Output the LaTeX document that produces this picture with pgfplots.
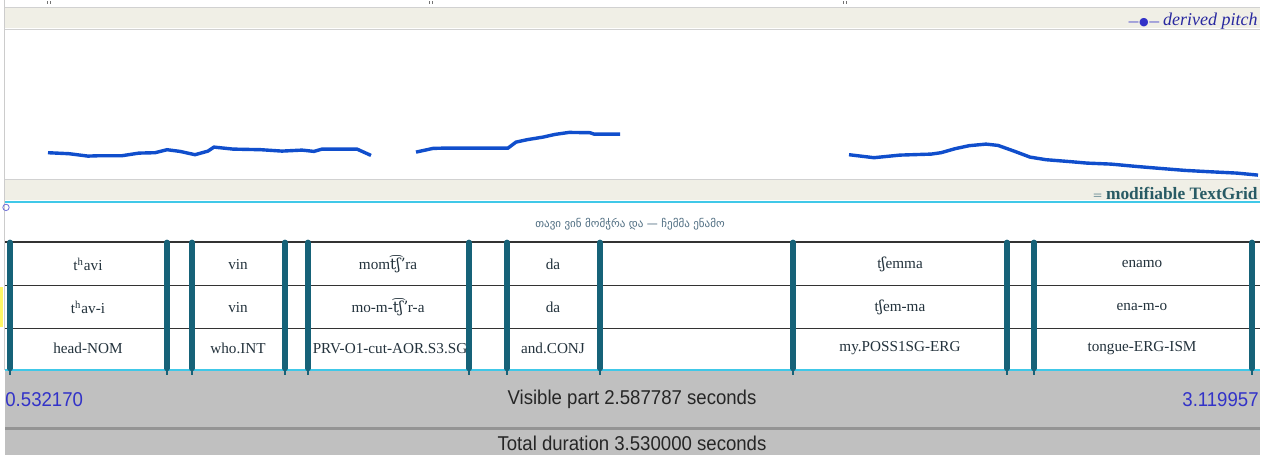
\documentclass[border=0pt]{standalone}
\usepackage{fontspec}
\setmainfont{Liberation Serif}
\newfontfamily\serf{Liberation Serif}
\newfontfamily\sansf{Liberation Sans}
\newfontfamily\geo{DejaVu Sans}
\newfontfamily\ipa{DejaVu Serif}
\usepackage{graphicx}
\usepackage{pgfplots}
\pgfplotsset{compat=1.18}
\definecolor{beige}{RGB}{240,239,230}
\definecolor{pitchblue}{RGB}{16,78,204}
\definecolor{bnd}{RGB}{22,98,120}
\definecolor{cyanline}{RGB}{64,200,232}
\definecolor{panelgray}{RGB}{192,192,192}
\definecolor{labblue}{RGB}{50,50,200}
\definecolor{tgteal}{RGB}{40,90,100}
\definecolor{rowtxt}{RGB}{35,50,60}
\definecolor{geotxt}{RGB}{80,110,130}
\newcommand{\rowfont}{\serf\fontsize{7.6}{9}\selectfont\color{rowtxt}}
\newcommand{\panelfont}{\sansf\fontsize{10}{12}\selectfont}
\begin{document}
\begin{tikzpicture}
\begin{axis}[x=0.5pt,y=0.5pt,y dir=reverse,xmin=0,xmax=1277,ymin=0,ymax=455,
  hide axis,clip=false]
% backgrounds
\fill[white] (0,0) rectangle (1277,455);
\fill[beige] (5,7) rectangle (1260,28);
\draw[black!18] (5,28.5) -- (1260,28.5);
\draw[black!18] (5,7) -- (1260,7);
\fill[beige] (5,179) rectangle (1260,200);
\draw[black!18] (5,178.5) -- (1260,178.5);
\draw[black!20] (4.5,0) -- (4.5,370);
\fill[yellow!60!white] (0,287) rectangle (3,327);
% tier lines
\draw[black!80, line width=0.7pt] (5,241.5) -- (1260,241.5);
\draw[black!80, line width=0.7pt] (5,285) -- (1260,285);
\draw[black!80, line width=0.7pt] (5,328) -- (1260,328);
% bottom panel
\fill[panelgray] (5,371) rectangle (1260,455);
\draw[black!42, line width=1.3pt] (5,428) -- (1260,428);
\draw[cyanline, line width=1.3pt] (5,201.5) -- (1260,201.5);
\draw[cyanline, line width=1.4pt] (5,369.5) -- (1260,369.5);
\draw[labblue!70, line width=0.4pt] (6,207) circle[radius=1.6pt];
% top tiny marks
\draw[black!55, line width=0.4pt] (47,1) -- (47,4) (50,1) -- (50,4) (429,1) -- (429,4) (432,1) -- (432,4) (843,1) -- (843,4) (846,1) -- (846,4);
% pitch contour
\addplot[pitchblue, line width=1.7pt, no marks] coordinates {
(48,152.3) (69,153.3) (88,155.7) (100,155.3) (122,155.3) (139,152.7) (155,152.3)
(167,149.3) (180,151) (195,154.3) (208,150.7) (214,146.7) (233,148.7) (261,149.3)
(282,150.7) (302,149.7) (314,151) (322,148.7) (357,148.7) (371,155)};
\addplot[pitchblue, line width=1.7pt, no marks] coordinates {
(416,151.7) (433,148) (445,147.7) (508,147.7) (516,141.7) (527,139.3) (543,136.7)
(555,134) (569,132) (590,132.3) (594,133.7) (620,133.7)};
\addplot[pitchblue, line width=1.7pt, no marks] coordinates {
(849,154.3) (874,157.3) (900,154.7) (931,153.7) (941,152.3) (955,148.3) (969,145.3)
(986,143.7) (998,145) (1014,150.7) (1030,156.7) (1046,159.3) (1071,161.3) (1087,162.7)
(1111,163.7) (1136,166) (1160,168) (1185,170) (1209,171.3) (1237,172.7) (1258,174.7)};
% interval boundaries
\addplot[bnd, line width=2.8pt, line cap=round, no marks, unbounded coords=jump] coordinates {
(10,242)(10,368)(10,nan)
(167,242)(167,368)(167,nan)
(192,242)(192,368)(192,nan)
(285,242)(285,368)(285,nan)
(308,242)(308,368)(308,nan)
(469,242)(469,368)(469,nan)
(507,242)(507,368)(507,nan)
(600,242)(600,368)(600,nan)
(793,242)(793,368)(793,nan)
(1007,242)(1007,368)(1007,nan)
(1034,242)(1034,368)(1034,nan)
(1252,242)(1252,368)};
\addplot[bnd, line width=0.9pt, no marks, unbounded coords=jump] coordinates {
(10,369)(10,375)(10,nan)
(167,369)(167,375)(167,nan)
(192,369)(192,375)(192,nan)
(285,369)(285,375)(285,nan)
(308,369)(308,375)(308,nan)
(469,369)(469,375)(469,nan)
(507,369)(507,375)(507,nan)
(600,369)(600,375)(600,nan)
(793,369)(793,375)(793,nan)
(1007,369)(1007,375)(1007,nan)
(1034,369)(1034,375)(1034,nan)
(1252,369)(1252,375)};
% header texts
\node[anchor=east, inner sep=0pt] at (1258,21) {{\geo\fontsize{5.5}{7}\selectfont\color{labblue}—●—}\,{\serf\fontsize{9}{10}\selectfont\itshape\color{labblue!80!black} derived pitch}};
\node[anchor=east, inner sep=0pt] at (1258,193) {{\geo\fontsize{6}{7}\selectfont\color{tgteal!60}=}\,{\serf\fontsize{8.7}{10}\selectfont\bfseries\color{tgteal} modifiable TextGrid}};
\node[inner sep=0pt] at (630,224) {\geo\fontsize{5.5}{6}\selectfont\color{geotxt}თავი ვინ მომჭრა და — ჩემმა ენამო};
% row 1
\node[inner sep=0pt] at (88,264) {\rowfont t\textsuperscript{h}avi};
\node[inner sep=0pt] at (238,264) {\rowfont vin};
\node[inner sep=0pt] at (388,264) {\rowfont mom{\ipa t͡ʃʼ}ra};
\node[inner sep=0pt] at (553,264) {\rowfont da};
\node[inner sep=0pt] at (900,264) {\rowfont t{\ipa ʃ}emma};
\node[inner sep=0pt] at (1142,264) {\rowfont enamo};
% row 2
\node[inner sep=0pt] at (88,307) {\rowfont t\textsuperscript{h}av-i};
\node[inner sep=0pt] at (238,307) {\rowfont vin};
\node[inner sep=0pt] at (388,307) {\rowfont mo-m-{\ipa t͡ʃʼ}r-a};
\node[inner sep=0pt] at (553,307) {\rowfont da};
\node[inner sep=0pt] at (900,307) {\rowfont t{\ipa ʃ}em-ma};
\node[inner sep=0pt] at (1142,307) {\rowfont ena-m-o};
% row 3
\node[inner sep=0pt] at (88,348) {\rowfont head-NOM};
\node[inner sep=0pt] at (238,348) {\rowfont who.INT};
\node[inner sep=0pt] at (390,348) {\rowfont PRV-O1-cut-AOR.S3.SG};
\node[inner sep=0pt] at (553,348) {\rowfont and.CONJ};
\node[inner sep=0pt] at (900,348) {\rowfont my.POSS1SG-ERG};
\node[inner sep=0pt] at (1142,348) {\rowfont tongue-ERG-ISM};
% bottom panel texts
\node[anchor=west, inner sep=0pt] at (5,399) {\panelfont\color{labblue}\scalebox{0.93}[1]{0.532170}};
\node[anchor=east, inner sep=0pt] at (1259,399) {\panelfont\color{labblue}\scalebox{0.93}[1]{3.119957}};
\node[inner sep=0pt] at (632,399) {\panelfont\color{black!85}\scalebox{0.93}[1]{Visible part 2.587787 seconds}};
\node[inner sep=0pt] at (632,443) {\panelfont\color{black!85}\scalebox{0.93}[1]{Total duration 3.530000 seconds}};
\end{axis}
\end{tikzpicture}
\end{document}
